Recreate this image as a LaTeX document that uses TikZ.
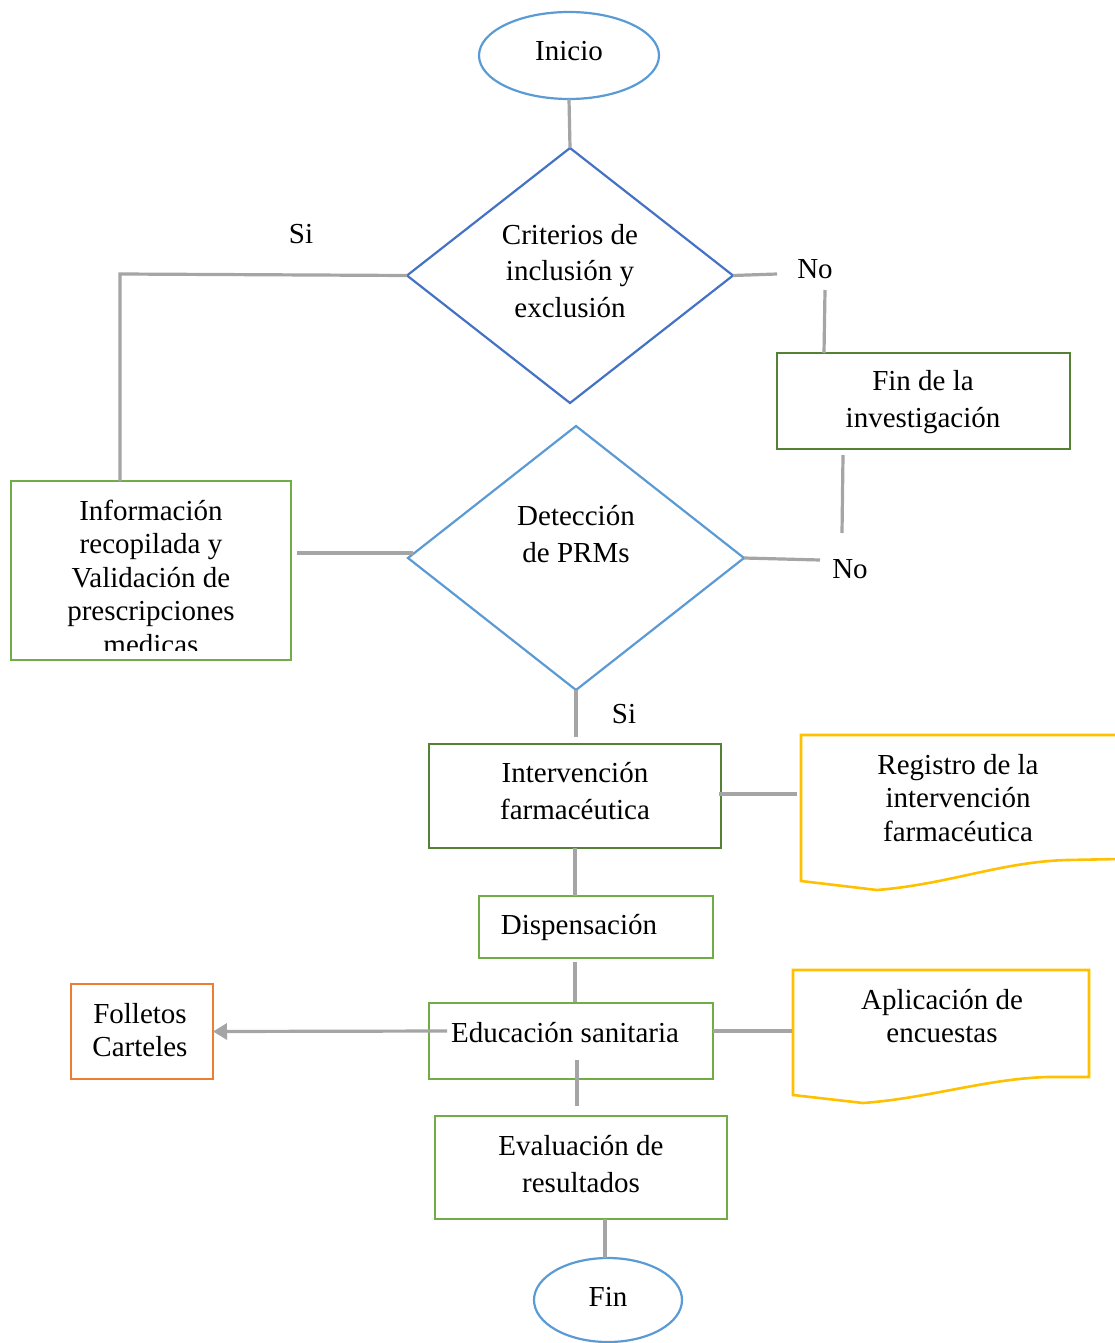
\documentclass[tikz,border=0pt]{standalone}
\usepackage{fontspec}
\setmainfont{Liberation Serif}
\usetikzlibrary{shapes.geometric,arrows.meta}
\definecolor{lgray}{HTML}{A5A5A5}
\definecolor{blueA}{HTML}{5B9BD5}
\definecolor{blueB}{HTML}{4472C4}
\definecolor{dkgreen}{HTML}{548235}
\definecolor{ltgreen}{HTML}{70AD47}
\definecolor{orangeA}{HTML}{ED7D31}
\definecolor{yellowA}{HTML}{FFC000}
\begin{document}
\begin{tikzpicture}[x=1pt,y=-1pt,
  conn/.style={draw=lgray,line width=3.2pt},
  txt/.style={font=\fontsize{29}{33.5}\selectfont,align=center,inner sep=0pt},
  txtw/.style={font=\fontsize{29}{36.5}\selectfont,align=center,inner sep=0pt},
  shp/.style={line width=2.2pt,inner sep=0pt,outer sep=0pt},
  boxx/.style={shp,rectangle},
  docshape/.style={draw=yellowA,line width=2.6pt,line join=miter}]
\useasboundingbox (0,0) rectangle (1114,1343);

% shapes
\node[shp,draw=blueA,ellipse,minimum width=180pt,minimum height=87pt] (inicio) at (569,55.5) {};
\node[shp,draw=blueB,diamond,minimum width=326pt,minimum height=255pt] (d1) at (570,275.5) {};
\node[shp,draw=blueA,diamond,minimum width=336pt,minimum height=264pt] (d2) at (576,558) {};
\node[boxx,draw=ltgreen,minimum width=280pt,minimum height=179pt] (info) at (151,570.5) {};
\node[boxx,draw=dkgreen,minimum width=293pt,minimum height=96pt] (fin) at (923.5,401) {};
\node[boxx,draw=dkgreen,minimum width=292pt,minimum height=104pt] (inter) at (575,796) {};
\node[boxx,draw=ltgreen,minimum width=234pt,minimum height=62pt] (disp) at (596,927) {};
\node[boxx,draw=ltgreen,minimum width=284pt,minimum height=76pt] (edu) at (571,1041) {};
\node[boxx,draw=orangeA,minimum width=142pt,minimum height=95pt] (fol) at (142,1031.5) {};
\node[boxx,draw=ltgreen,minimum width=292pt,minimum height=103pt] (eval) at (581,1167.5) {};
\node[shp,draw=blueA,ellipse,minimum width=148pt,minimum height=84pt] (finE) at (608,1300) {};

% documents
\draw[docshape] (1120,735) -- (801,735) -- (801,881) -- (877,890)
  .. controls (950,884) and (1000,862) .. (1067,860) -- (1120,859);
\draw[docshape] (1089,1077) -- (1089,970) -- (793,970) -- (793,1095) -- (863,1103)
  .. controls (930,1098) and (985,1079) .. (1047,1077) -- cycle;

% texts
\node[txt] (tinicio) at (569,51) {Inicio};
\node[txtw] (td1) at (570,271) {Criterios de\\inclusión y\\exclusión};
\node[txtw] (td2) at (576,534) {Detección\\de PRMs};
\begin{scope}
  \clip (11,481) rectangle (291,650);
  \node[txt] (tinfo) at (151,577) {Información\\recopilada y\\Validación de\\prescripciones\\medicas};
\end{scope}
\node[txtw] (tfin) at (923,402) {Fin de la\\investigación};
\node[txtw] (tinter) at (575,791) {Intervención\\farmacéutica};
\node[txt] (treg) at (958,798) {Registro de la\\intervención\\farmacéutica};
\node[txt] (tdisp) at (579,927) {Dispensación};
\node[txt] (tedu) at (565,1033) {Educación sanitaria};
\node[txt] (tfol) at (140,1030) {Folletos\\Carteles};
\node[txt] (tapl) at (942,1016) {Aplicación de\\encuestas};
\node[txtw] (teval) at (581,1164) {Evaluación de\\resultados};
\node[txt] (tfinE) at (608,1297) {Fin};

\node[txt] (si1) at (301,234) {Si};
\node[txt] (no1) at (815,269) {No};
\node[txt] (no2) at (850,569) {No};
\node[txt] (si2) at (624,714) {Si};

% coordinates for free ends
\coordinate (sicorner) at (120,274);
\coordinate (no1end) at (777,274);
\coordinate (no1b) at (825,290);
\coordinate (fintop) at (824,353);
\coordinate (finbot) at (843,455);
\coordinate (no2top) at (842,533);
\coordinate (no2end) at (820,560);
\coordinate (infoR) at (297,553);
\coordinate (d2L) at (413,553);
\coordinate (interTop) at (576,737);
\coordinate (interR) at (719,794);
\coordinate (regL) at (797,794);
\coordinate (interB) at (575,848);
\coordinate (dispT) at (575,896);
\coordinate (dispB) at (575,962);
\coordinate (eduT) at (575,1002);
\coordinate (eduIn) at (447,1031);
\coordinate (eduR) at (713,1031);
\coordinate (aplL) at (792,1031);
\coordinate (eduB) at (577,1060);
\coordinate (evalT) at (577,1106);
\coordinate (evalB) at (605,1219);
\coordinate (finT) at (605,1258);

% connectors
\draw[conn] (inicio.south) -- (d1.north);
\draw[conn] (d1.west) -- (sicorner) -- (sicorner |- info.north);
\draw[conn] (d1.east) -- (no1end);
\draw[conn] (no1b) -- (fintop);
\draw[conn] (finbot) -- (no2top);
\draw[conn] (d2.east) -- (no2end);
\draw[conn] (infoR) -- (d2L);
\draw[conn] (d2.south) -- (interTop);
\draw[conn] (interR) -- (regL);
\draw[conn] (interB) -- (dispT);
\draw[conn] (dispB) -- (eduT);
\draw[conn,-{Triangle[length=14pt,width=16pt]}] (eduIn) -- (fol.east);
\draw[conn] (eduR) -- (aplL);
\draw[conn] (eduB) -- (evalT);
\draw[conn] (evalB) -- (finT);
\end{tikzpicture}
\end{document}
